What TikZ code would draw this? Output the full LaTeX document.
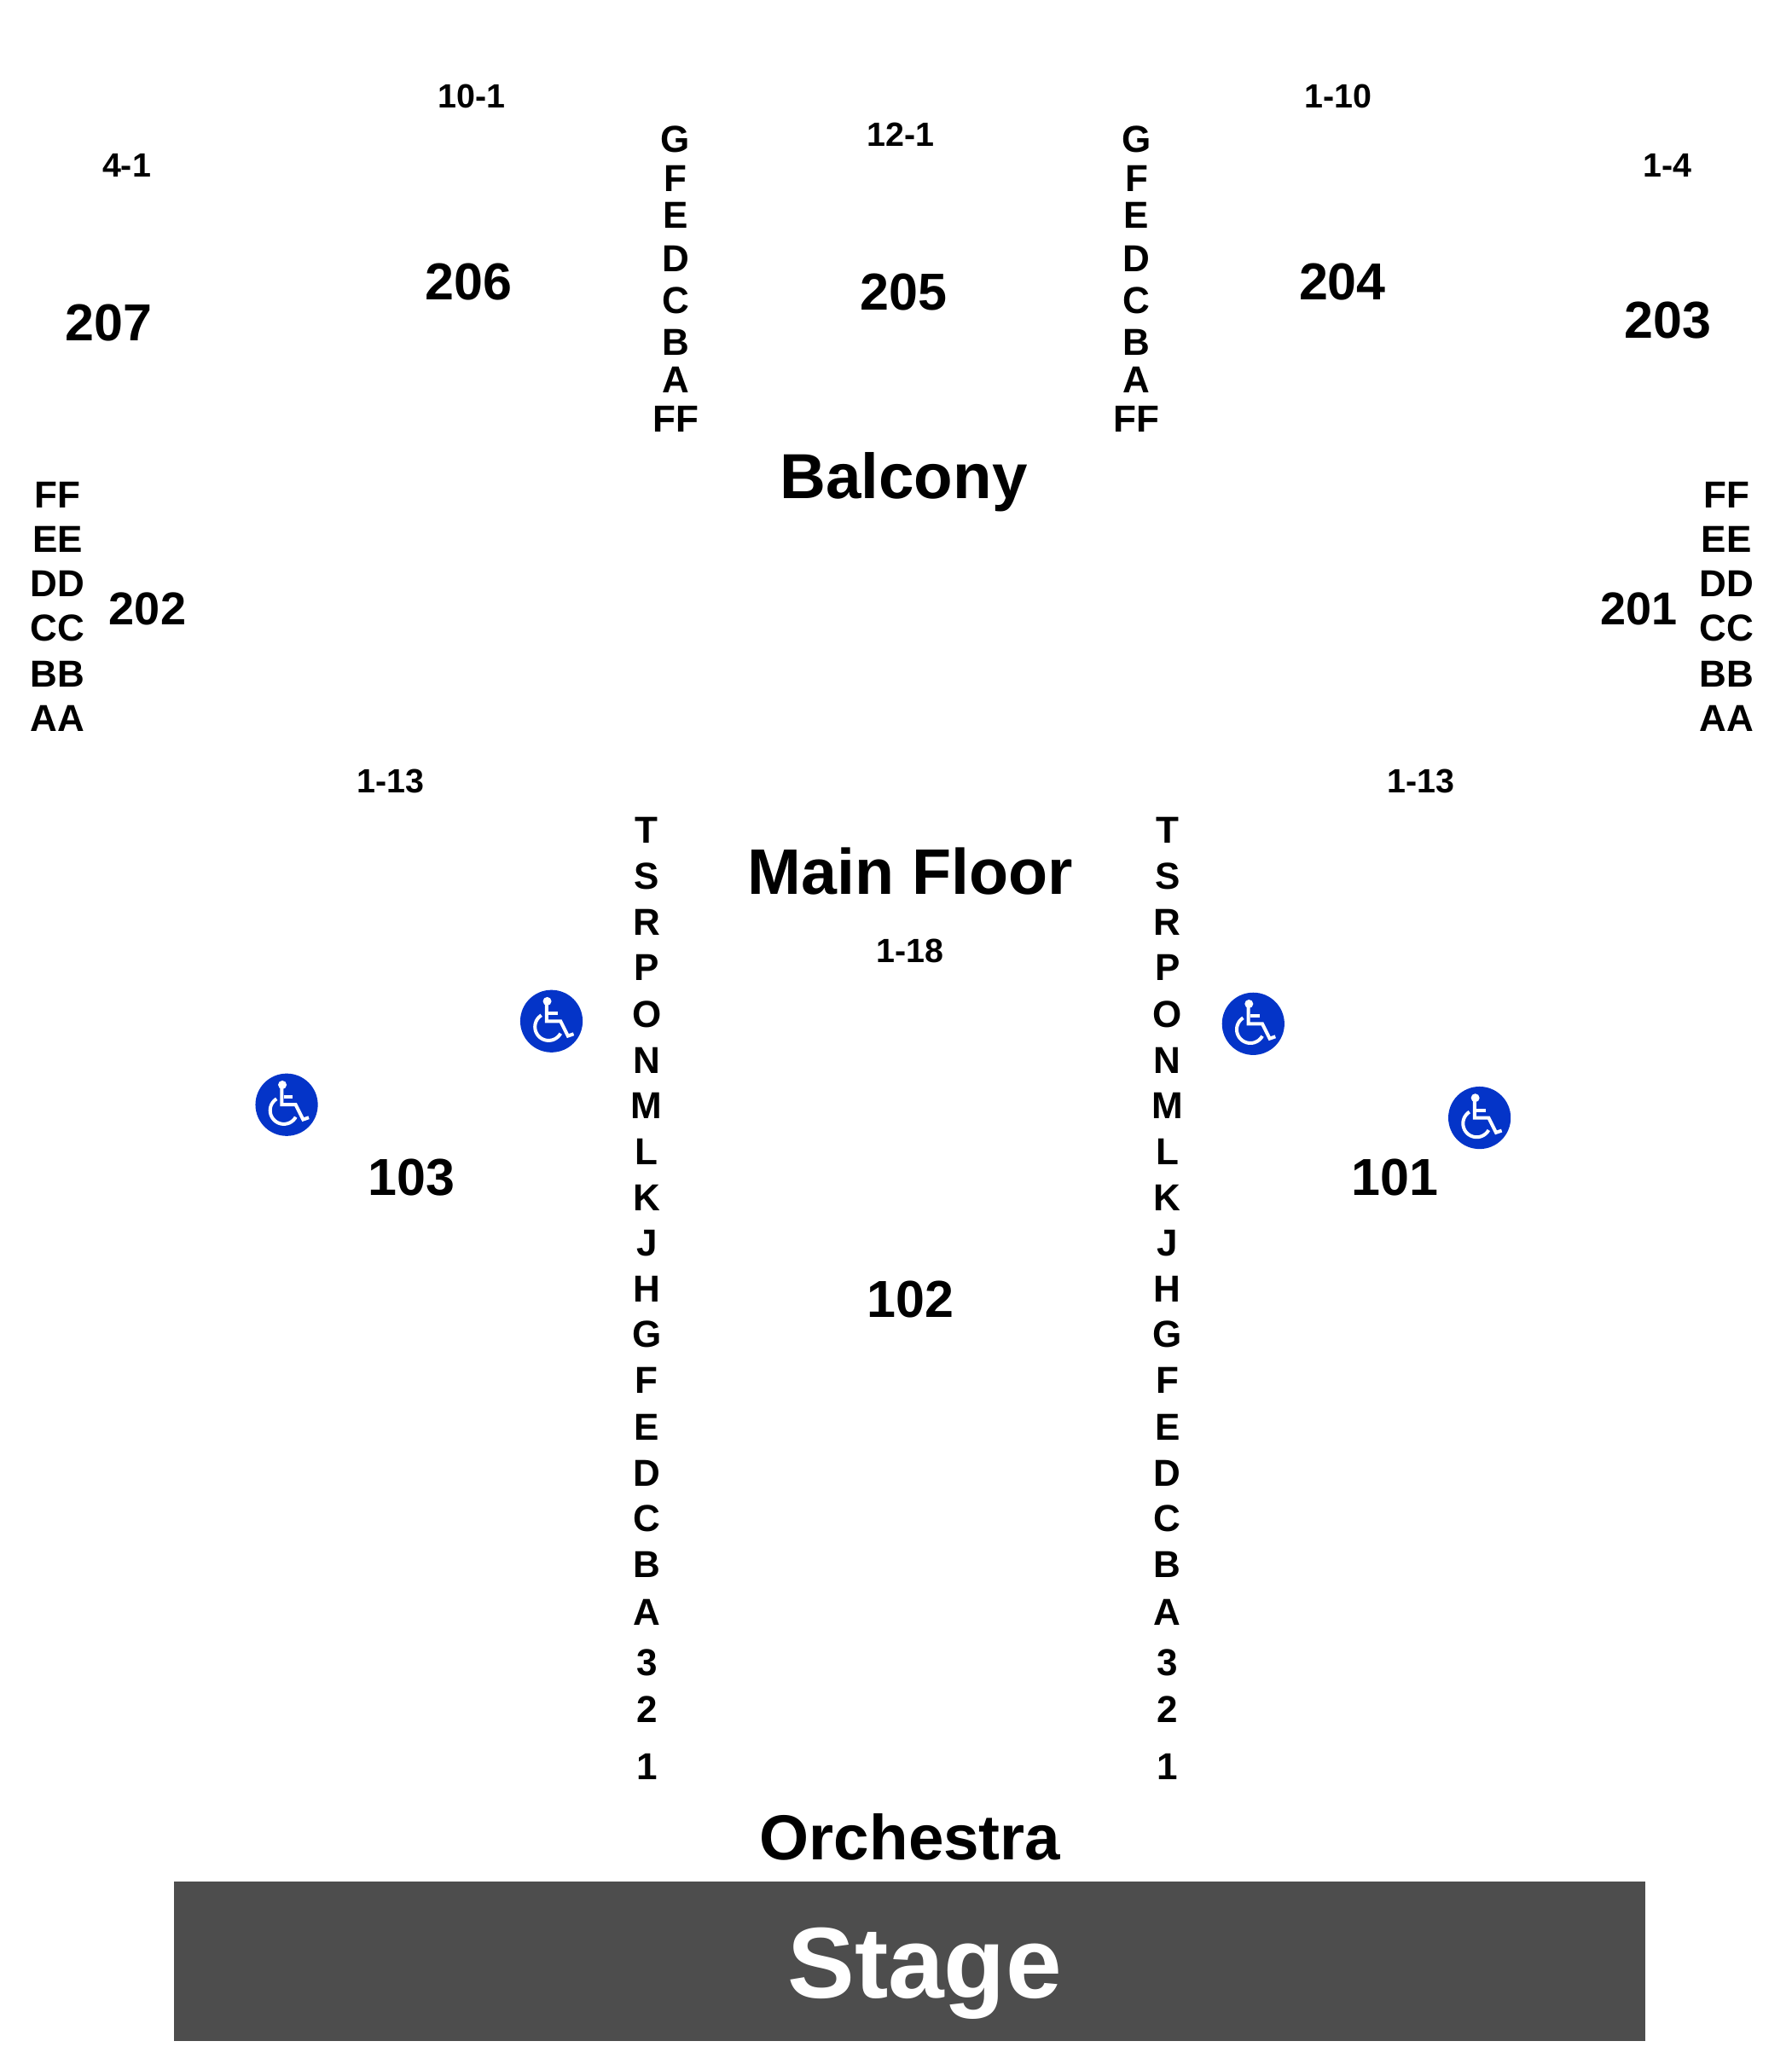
\documentclass[tikz,border=0pt]{standalone}
\usepackage{fontspec}
\setmainfont{Liberation Sans}
\definecolor{iconblue}{HTML}{0434C8}
\definecolor{stagegrey}{HTML}{4D4D4D}
\tikzset{
  x=0.7655pt,y=-0.7655pt,
  lab/.style={inner sep=0,font=\fontsize{#1}{#1}\selectfont\bfseries,text=black},
  rowlab/.style={lab=22},
  seatlab/.style={lab=19.7},
  seclab/.style={lab=30.5},
  midlab/.style={lab=27},
  chair/.style={line width=2pt,white,line cap=butt,line join=miter},
  chairicon/.pic={
    \fill[iconblue] (0,0) circle[x radius=23.9,y radius=23.9];
    \begin{scope}[x=0.16666pt,y=-0.16666pt]
      \fill[white] (-15,-70) circle[x radius=15,y radius=15];
      \draw[chair] (-17,-65) -- (-17,0) -- (32,0) -- (58,52) -- (78,45);
      \draw[chair] (-10,-27) -- (22,-27);
      \draw[chair] plot[domain=238:29,samples=30,smooth] ({-10+48*cos(\x)},{20+48*sin(\x)});
    \end{scope}
  }
}
\begin{document}
\begin{tikzpicture}
\useasboundingbox (0,0) rectangle (1371.7,1567.6);
% stage
\node[fill=stagegrey,minimum width=862.7pt,minimum height=93.6pt,inner sep=0,anchor=north west] (stage) at (133,1440.5) {};
\node[lab=59,text=white] (stagetxt) at (708,1511) {Stage};
% titles
\node[lab=37.3] (balcony) at (692,369) {Balcony};
\node[lab=37.7] (mainfloor) at (697,667) {Main Floor};
\node[lab=37.3] (orchestra) at (697,1406.5) {Orchestra};
% sections
\foreach \n/\x/\y in {207/83/247,206/359/216,205/692/224,204/1028/216,203/1277/245,103/315/902,101/1068/902,102/697/995}
  \node[seclab] (sec\n) at (\x,\y) {\n};
\foreach \n/\x/\y in {202/113/466,201/1255/466}
  \node[midlab] (sec\n) at (\x,\y) {\n};
% seat ranges
\foreach \t/\x/\y [count=\i] in {10-1/361/74,12-1/690/103,1-10/1025/74,4-1/97/127,1-4/1277/127,1-13/299/598,1-13/1088/598,1-18/697/728}
  \node[seatlab] (seat\i) at (\x,\y) {\t};
% balcony rows
\foreach \t/\y [count=\i] in {G/107,F/137,E/165,D/198,C/230,B/262,A/291,FF/321}{
  \node[rowlab] (bl\i) at (517.3,\y) {\t};
  \node[rowlab] (br\i) at (870.3,\y) {\t};
}
% side rows
\foreach \t/\y [count=\i] in {FF/379,EE/413,DD/447,CC/481,BB/516,AA/550}{
  \node[rowlab] (sl\i) at (44,\y) {\t};
  \node[rowlab] (sr\i) at (1322,\y) {\t};
}
% main rows
\foreach \t/\y [count=\i] in {T/636,S/671,R/706,P/741,O/777,N/812,M/847,L/882,K/917,J/952,H/987,G/1022,F/1057,E/1093,D/1128,C/1163,B/1198,A/1235,3/1273,2/1309,1/1353}{
  \node[rowlab] (ml\i) at (495.3,\y) {\t};
  \node[rowlab] (mr\i) at (894,\y) {\t};
}
% wheelchair icons
\pic at (422.3,782) {chairicon};
\pic at (219.5,846) {chairicon};
\pic at (959.7,784) {chairicon};
\pic at (1133,856) {chairicon};
\end{tikzpicture}
\end{document}
